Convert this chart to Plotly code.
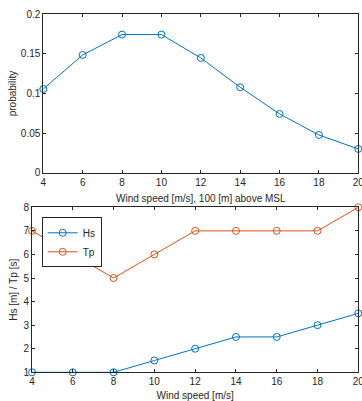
import plotly.graph_objects as go

wind = [4, 6, 8, 10, 12, 14, 16, 18, 20]
prob = [0.1057, 0.1487, 0.1744, 0.1744, 0.1449, 0.1079, 0.0742, 0.0476, 0.030]
hs = [1, 1, 1, 1.5, 2, 2.5, 2.5, 3, 3.5]
tp = [7, 6, 5, 6, 7, 7, 7, 7, 8]

W, H = 362, 401
BLUE = "#0072BD"
ORANGE = "#D95319"
AX = "#262626"
FONT = "Liberation Sans"

def px_x(p):
    return p / W

def px_y(p):
    return 1 - p / H

fig = go.Figure()
mk = dict(symbol="circle-open", size=7, line=dict(width=1))
fig.add_trace(go.Scatter(x=wind, y=prob, mode="lines+markers", xaxis="x", yaxis="y",
                         line=dict(color=BLUE, width=1), marker=dict(color=BLUE, **mk),
                         showlegend=False, cliponaxis=False))
fig.add_trace(go.Scatter(x=wind, y=hs, mode="lines+markers", xaxis="x2", yaxis="y2", name="Hs",
                         line=dict(color=BLUE, width=1), marker=dict(color=BLUE, **mk), cliponaxis=False))
fig.add_trace(go.Scatter(x=wind, y=tp, mode="lines+markers", xaxis="x2", yaxis="y2", name="Tp",
                         line=dict(color=ORANGE, width=1), marker=dict(color=ORANGE, **mk), cliponaxis=False))

common = dict(showgrid=False, zeroline=False, showline=True, linecolor=AX, linewidth=1,
              mirror="ticks", ticks="inside", ticklen=3, tickcolor=AX, automargin=False,
              ticklabeloverflow="allow",
              tickfont=dict(family=FONT, size=10, color=AX))

TF = dict(size=10, color=AX, family=FONT)

fig.update_layout(
    template="none",
    width=W, height=H,
    margin=dict(l=0, r=0, t=0, b=0, autoexpand=False),
    paper_bgcolor="white", plot_bgcolor="white",
    font=dict(family=FONT, color=AX),
    xaxis=dict(domain=[px_x(43.3), px_x(358.3)], range=[4, 20], tickvals=wind, anchor="y",
               title=dict(text="Wind speed [m/s], 100 [m] above MSL", font=TF, standoff=8),
               **common),
    yaxis=dict(domain=[px_y(172.7), px_y(14.3)], range=[0, 0.2], tickvals=[0, 0.05, 0.1, 0.15, 0.2],
               ticktext=["0", "0.05", "0.1", "0.15", "0.2"], anchor="x",
               title=dict(text="probability", font=TF, standoff=2),
               **common),
    xaxis2=dict(domain=[px_x(32), px_x(358.3)], range=[4, 20], tickvals=wind, anchor="y2",
                title=dict(text="Wind speed [m/s]", font=TF, standoff=9),
                **common),
    yaxis2=dict(domain=[px_y(372.3), px_y(207.3)], range=[1, 8], tickvals=[1, 2, 3, 4, 5, 6, 7, 8],
                anchor="x2",
                title=dict(text="Hs [m] / Tp [s]", font=TF, standoff=3),
                **common),
    legend=dict(x=px_x(41.7), y=px_y(217.3), xanchor="left", yanchor="top",
                bordercolor=AX, borderwidth=1, bgcolor="white",
                font=dict(family=FONT, size=10, color=AX),
                tracegroupgap=0, itemwidth=30),
)

fig.write_html("out.html", config={"displayModeBar": False},
               post_script="document.body.style.margin='0';document.body.style.overflow='hidden';")
